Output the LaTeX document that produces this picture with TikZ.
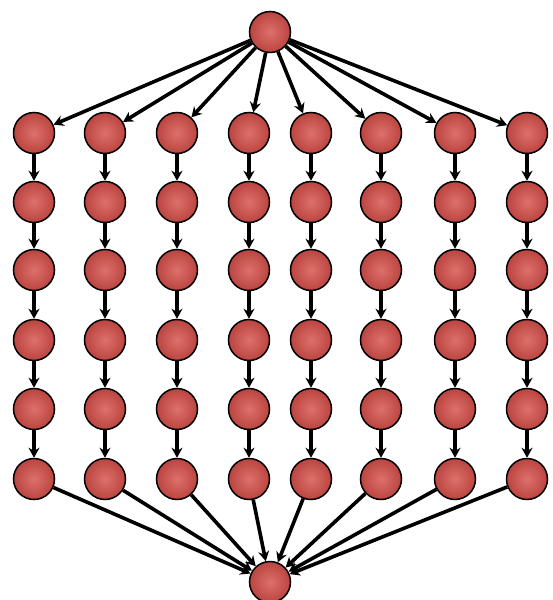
\documentclass[tikz,border=0pt]{standalone}
\usetikzlibrary{arrows.meta}
\definecolor{nodered}{RGB}{206,88,84}
\definecolor{nodelight}{RGB}{222,112,106}
\definecolor{nodedark}{RGB}{186,68,64}
\tikzset{
  ball/.style={circle, draw=black, line width=1.5pt, minimum size=41pt, inner sep=0pt,
    inner color=nodelight, outer color=nodedark},
  edge/.style={line width=3.6pt, -{Stealth[length=10pt,width=11pt]}}
}
\begin{document}
\begin{tikzpicture}[x=1pt,y=-1pt]
\useasboundingbox (0,0) rectangle (553,600);
\node[ball] (top) at (270,32) {};
\node[ball] (bot) at (270,582) {};
\foreach \c/\x in {1/34,2/105,3/177,4/249,5/311,6/381,7/455,8/527}{
  \foreach \r/\y in {1/133,2/202,3/270,4/340,5/409,6/479}{
    \node[ball] (n\c-\r) at (\x,\y) {};
  }
  \draw[edge] (top) -- (n\c-1);
  \foreach \r [evaluate=\r as \s using int(\r+1)] in {1,...,5}{
    \draw[edge] (n\c-\r) -- (n\c-\s);
  }
  \draw[edge] (n\c-6) -- (bot);
}
\end{tikzpicture}
\end{document}
